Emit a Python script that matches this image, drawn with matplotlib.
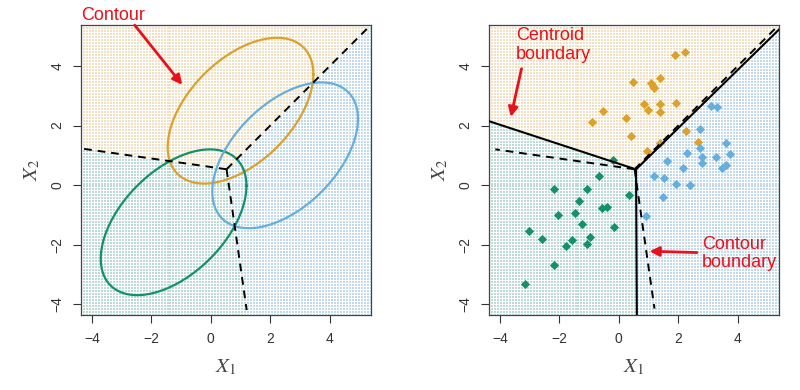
import numpy as np
import matplotlib.pyplot as plt

plt.rcParams['font.family'] = ['Liberation Sans', 'DejaVu Sans']
plt.rcParams['mathtext.fontset'] = 'stix'

# true class means (orange, green, blue) and shared covariance
names = ['orange', 'green', 'blue']
true_means = {'orange': [1.0, 2.5], 'green': [-1.25, -1.25], 'blue': [2.5, 1.0]}
sigma = np.array([[1.0, 0.5], [0.5, 1.0]])
contour_level = 6.0

col = {'orange': '#DCA02C', 'green': '#15906C', 'blue': '#66AEDC'}
bg_col = {'orange': '#F0E1C2', 'green': '#BCDBD4', 'blue': '#C2DAE9'}

orange_x = [1.90, 2.24, 0.48, 1.09, 1.14, 1.18, 1.37, 0.85, 1.37, 1.93,
            0.98, 1.38, -0.53, -0.91, 0.25, 0.40, 2.26, 2.65, 0.94, 1.37]
orange_y = [4.37, 4.48, 3.45, 3.42, 3.34, 3.27, 3.61, 2.72, 2.71, 2.77,
            2.51, 2.45, 2.48, 2.12, 2.25, 1.66, 1.83, 1.44, 1.14, 1.40]
green_x = [-0.21, -0.66, -2.18, -1.08, 0.34, -1.33, -0.56, -0.38, -1.47, -2.03,
           -1.23, -0.17, -3.03, -0.98, -2.59, -1.58, -1.78, -1.08, -2.19, -3.15]
green_y = [0.84, 0.31, -0.12, -0.12, -0.33, -0.53, -0.78, -0.73, -0.93, -0.99,
           -1.30, -1.40, -1.55, -1.76, -1.80, -1.85, -2.05, -1.98, -2.68, -3.34]
blue_x = [3.10, 3.29, 2.74, 3.60, 2.74, 2.31, 2.80, 3.28, 3.73, 3.62,
          3.46, 2.80, 1.62, 2.17, 1.20, 1.51, 1.92, 2.38, 1.50, 0.93]
blue_y = [2.67, 2.62, 1.88, 1.42, 1.24, 1.09, 0.95, 0.94, 1.05, 0.68,
          0.57, 0.75, 0.80, 0.58, 0.30, 0.25, 0.04, 0.00, -0.41, -1.03]
samples = {'orange': np.column_stack([orange_x, orange_y]),
           'green': np.column_stack([green_x, green_y]),
           'blue': np.column_stack([blue_x, blue_y])}

lims = (-4.37, 5.38)
ticks = [-4, -2, 0, 2, 4]


def lda_coefs(means, cov):
    inv = np.linalg.inv(cov)
    a = {k: inv @ np.asarray(means[k]) for k in names}
    b = {k: -0.5 * np.asarray(means[k]) @ inv @ np.asarray(means[k]) for k in names}
    return a, b


def classify(a, b, pts):
    scores = np.column_stack([pts @ a[k] + b[k] for k in names])
    return scores.argmax(axis=1)


def ray_end(p, v, box):
    (x0, x1), (y0, y1) = box
    ts = []
    for i, (lo, hi) in enumerate([(x0, x1), (y0, y1)]):
        if v[i] > 0:
            ts.append((hi - p[i]) / v[i])
        elif v[i] < 0:
            ts.append((lo - p[i]) / v[i])
    return p + min(ts) * v


def boundaries(a, b, box):
    # junction where all three discriminants are equal
    A = np.array([a['orange'] - a['green'], a['orange'] - a['blue']])
    r = np.array([b['green'] - b['orange'], b['blue'] - b['orange']])
    J = np.linalg.solve(A, r)
    segs = []
    for i, j, k in [('orange', 'green', 'blue'), ('orange', 'blue', 'green'),
                    ('green', 'blue', 'orange')]:
        w = a[i] - a[j]
        v = np.array([-w[1], w[0]])
        if (a[i] - a[k]) @ v < 0:
            v = -v
        segs.append((J, ray_end(J, v, box)))
    return segs


def draw_background(ax, a, b):
    g = np.linspace(lims[0], lims[1], 98)
    gx, gy = np.meshgrid(g, g)
    pts = np.column_stack([gx.ravel(), gy.ravel()])
    lab = classify(a, b, pts)
    for i, k in enumerate(names):
        m = lab == i
        ax.scatter(pts[m, 0], pts[m, 1], s=1.0, marker='s', color=bg_col[k],
                   linewidths=0, zorder=0)


def style(ax):
    ax.set_xlim(lims)
    ax.set_ylim(lims)
    ax.set_xticks(ticks)
    ax.set_yticks(ticks)
    ax.tick_params(length=6, width=0.8, labelsize=10, pad=6, colors='#333333')
    for t in ax.get_yticklabels():
        t.set_rotation(90)
        t.set_va('center')
    for s in ax.spines.values():
        s.set_linewidth(0.9)
        s.set_color('#444444')
    ax.set_xlabel(r'$X_1$', fontsize=15, labelpad=8, color='#444444')
    ax.set_ylabel(r'$X_2$', fontsize=15, labelpad=6, color='#444444')


fig = plt.figure(figsize=(8, 3.9), dpi=100)
ax1 = fig.add_axes([0.101, 0.192, 0.3625, 0.744])
ax2 = fig.add_axes([0.611, 0.192, 0.3625, 0.744])

a_true, b_true = lda_coefs(true_means, sigma)
pooled = sum((samples[k] - samples[k].mean(0)).T @ (samples[k] - samples[k].mean(0))
             for k in names) / (60 - 3)
a_hat, b_hat = lda_coefs({k: samples[k].mean(0) for k in names}, pooled)

# left panel: true contours and Bayes boundary
draw_background(ax1, a_true, b_true)
t = np.linspace(0, 2 * np.pi, 300)
L = np.linalg.cholesky(sigma)
circle = np.sqrt(contour_level) * np.vstack([np.cos(t), np.sin(t)])
for k in names:
    e = L @ circle + np.array(true_means[k])[:, None]
    ax1.plot(e[0], e[1], color=col[k], lw=1.6, zorder=3)
for p, q in boundaries(a_true, b_true, ((-4.3, 5.38), (-4.2, 5.38))):
    ax1.plot([p[0], q[0]], [p[1], q[1]], color='black', lw=1.4, ls=(0, (4, 3)), zorder=4)
style(ax1)

# right panel: samples, estimated (solid) and true (dashed) boundaries
draw_background(ax2, a_hat, b_hat)
for k in names:
    ax2.scatter(samples[k][:, 0], samples[k][:, 1], marker='D', s=22, color=col[k],
                linewidths=0, zorder=3)
for p, q in boundaries(a_true, b_true, ((-4.15, 5.38), (-4.15, 5.38))):
    ax2.plot([p[0], q[0]], [p[1], q[1]], color='black', lw=1.4, ls=(0, (4, 3)), zorder=4)
for p, q in boundaries(a_hat, b_hat, (lims, lims)):
    ax2.plot([p[0], q[0]], [p[1], q[1]], color='black', lw=1.5, zorder=5)
style(ax2)

# annotations
red = '#E8101A'
arrow = dict(arrowstyle='-|>', color=red, lw=2, mutation_scale=14)
fig.text(0.101, 0.96, 'Contour', color=red, fontsize=13, va='center', ha='left')
fig.add_artist(plt.Annotation('', xy=(184 / 800, 1 - 87 / 390), xycoords='figure fraction',
                              xytext=(133 / 800, 1 - 23 / 390), textcoords='figure fraction',
                              arrowprops=arrow))
ax2.text(-3.46, 4.71, 'Centroid\nboundary', color=red, fontsize=13, va='center',
         ha='left', linespacing=1.1)
ax2.annotate('', xy=(-3.65, 2.2), xytext=(-3.25, 4.0), arrowprops=arrow)
ax2.text(2.79, -2.29, 'Contour\nboundary', color=red, fontsize=13, va='center',
         ha='left', linespacing=1.1)
ax2.annotate('', xy=(0.94, -2.22), xytext=(2.72, -2.27), arrowprops=arrow)

fig.savefig('out.png', dpi=100)
